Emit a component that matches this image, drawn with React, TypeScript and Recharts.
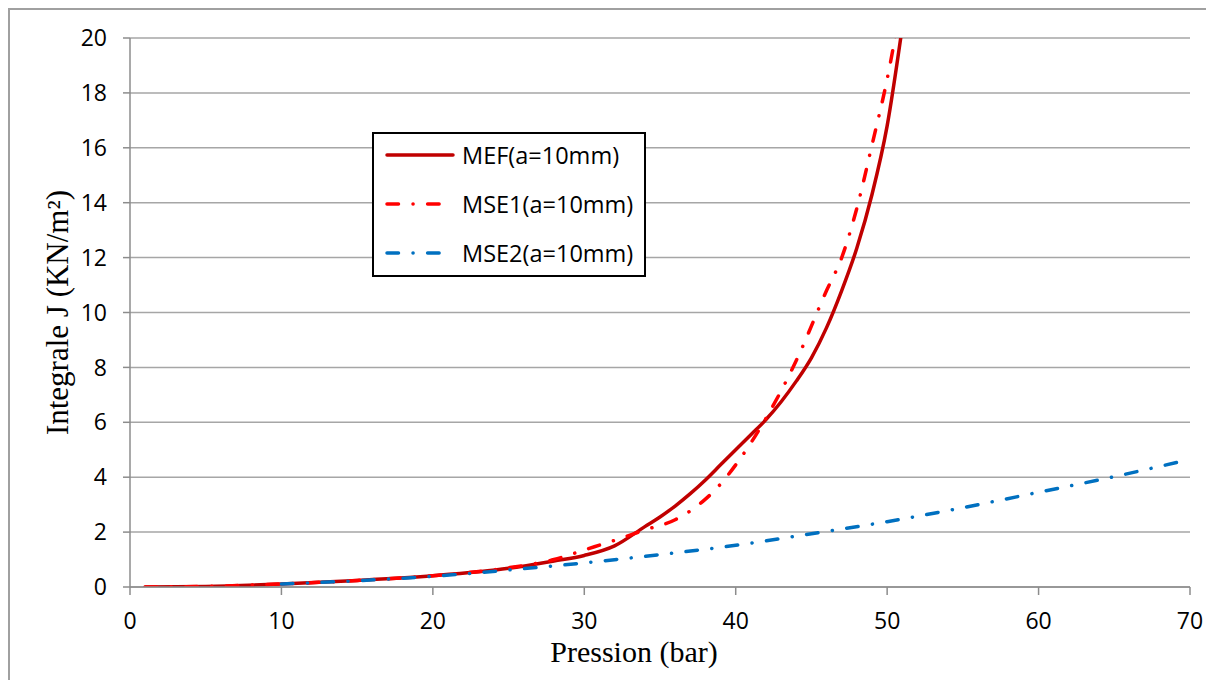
import React from 'react';
import { LineChart, Line, XAxis, YAxis, CartesianGrid, Legend } from 'recharts';

// pression (bar) / intégrale J (KN/m²)
const mefP = [1, 5, 10, 15, 20, 25, 28, 30, 32, 34, 35, 36, 37, 38, 39, 40, 41, 42, 43, 44, 45, 46, 47, 48, 49, 50, 51];
const mefJ = [0, 0.02, 0.11, 0.24, 0.41, 0.68, 0.95, 1.15, 1.5, 2.2, 2.55, 2.95, 3.4, 3.9, 4.45, 5.0, 5.55, 6.1, 6.75, 7.5, 8.35, 9.45, 10.8, 12.35, 14.3, 16.8, 20.4];

const mse1P = [1, 5, 10, 15, 20, 25, 28, 30, 32, 34, 36, 38, 39, 40, 42, 44, 46, 47, 48, 49, 50, 51];
const mse1J = [0, 0.02, 0.11, 0.24, 0.41, 0.7, 1.0, 1.35, 1.7, 2.08, 2.45, 3.2, 3.75, 4.45, 6.15, 8.25, 10.8, 12.0, 13.8, 16.1, 18.5, 21.5];

const mse2P = [10, 15, 20, 25, 30, 35, 40, 45, 50, 55, 60, 65, 70];
const mse2J = [0.11, 0.23, 0.39, 0.62, 0.88, 1.18, 1.52, 1.94, 2.38, 2.89, 3.45, 4.02, 4.65];

const xTicks = [0, 10, 20, 30, 40, 50, 60, 70];
const yTicks = [0, 2, 4, 6, 8, 10, 12, 14, 16, 18, 20];

const toRows = (p: number[], j: number[]) => p.map((x, i) => ({ p: x, j: j[i] }));

const DASHDOT = '11.5 14.5 0.1 14.5';

const series = [
  { name: 'MEF(a=10mm)', data: toRows(mefP, mefJ), color: '#C00000', dash: undefined as string | undefined },
  { name: 'MSE1(a=10mm)', data: toRows(mse1P, mse1J), color: '#FF0000', dash: DASHDOT },
  { name: 'MSE2(a=10mm)', data: toRows(mse2P, mse2J), color: '#0070C0', dash: DASHDOT },
];

const tickFont = { fontFamily: 'Open Sans', fontSize: 23, fill: '#000' };
const titleFont = { fontFamily: 'Liberation Serif', fontSize: 30, fill: '#000' };

const LegendBox = () => (
  <svg width={274} height={145}>
    <rect x={1} y={1} width={272} height={143} fill="#fff" stroke="#000" strokeWidth={2} />
    {series.map((s, i) => {
      const cy = 23 + i * 49;
      return (
        <g key={s.name}>
          <line x1={15} x2={81} y1={cy} y2={cy} stroke={s.color} strokeWidth={3.5}
            strokeDasharray={s.dash} strokeLinecap="round" />
          <text x={90} y={cy} dominantBaseline="central" style={{ ...tickFont, fontSize: 23.5 }}>{s.name}</text>
        </g>
      );
    })}
  </svg>
);

const App: React.FC = () => {
  return (
    <div style={{ borderLeft: '2px solid #a0a0a0', borderTop: '2px solid #a0a0a0', width: 1204, height: 670 }}>
      <LineChart width={1200} height={668} margin={{ top: 28, right: 20, left: 40, bottom: 51 }}>
        <CartesianGrid vertical={false} stroke="#a6a6a6" strokeWidth={1.5} />
        <XAxis
          type="number"
          dataKey="p"
          domain={[0, 70]}
          ticks={xTicks}
          height={40}
          tick={tickFont}
          tickSize={8}
          tickMargin={18}
          stroke="#8c8c8c"
          strokeWidth={1.5}
          label={{
            content: ({ viewBox }: any) => (
              <text x={viewBox.x + viewBox.width / 2 - 26} y={viewBox.y + 75} textAnchor="middle" style={titleFont}>
                Pression (bar)
              </text>
            ),
          }}
        />
        <YAxis
          type="number"
          dataKey="j"
          domain={[0, 20]}
          allowDataOverflow
          ticks={yTicks}
          width={80}
          tick={tickFont}
          tickSize={7}
          tickMargin={16}
          stroke="#8c8c8c"
          strokeWidth={1.5}
          label={{
            content: ({ viewBox }: any) => {
              const x = viewBox.x + 7;
              const y = viewBox.y + viewBox.height / 2;
              return (
                <text x={x} y={y} transform={`rotate(-90 ${x} ${y})`} textAnchor="middle"
                  dominantBaseline="central" style={{ ...titleFont, fontSize: 31 }}>
                  Integrale J (KN/m²)
                </text>
              );
            },
          }}
        />
        <Legend
          layout="vertical"
          align="center"
          verticalAlign="middle"
          wrapperStyle={{ left: 362, top: 122, width: 274, height: 145 }}
          content={() => <LegendBox />}
        />
        {series.map((s) => (
          <Line
            key={s.name}
            name={s.name}
            data={s.data}
            dataKey="j"
            type="monotone"
            stroke={s.color}
            strokeWidth={3.5}
            strokeDasharray={s.dash}
            strokeLinecap="round"
            dot={false}
            activeDot={false}
            isAnimationActive={false}
          />
        ))}
      </LineChart>
    </div>
  );
};

export default App;
